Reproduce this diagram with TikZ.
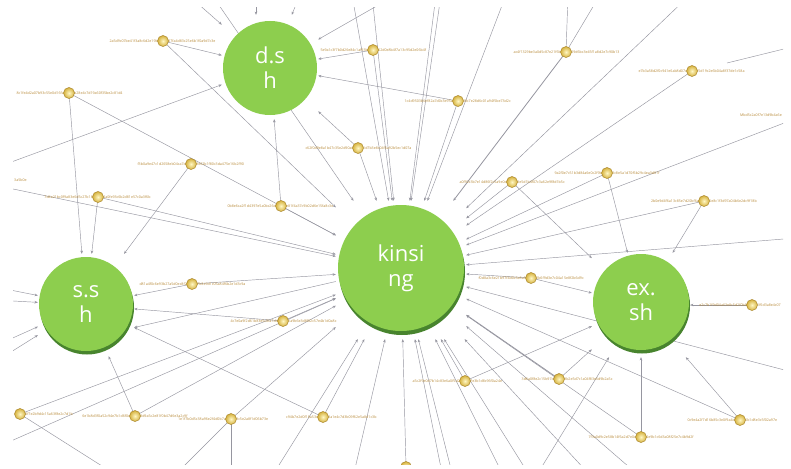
\documentclass[tikz,border=0pt]{standalone}
\usepackage{fontspec}
\setmainfont{Open Sans}
\usetikzlibrary{arrows.meta}
\pgfdeclarelayer{edges}
\pgfdeclarelayer{labs}
\pgfsetlayers{edges,labs,main}
\definecolor{gr}{RGB}{141,206,78}
\definecolor{grd}{RGB}{72,132,46}
\definecolor{edgec}{RGB}{150,150,160}
\definecolor{labc}{RGB}{185,140,60}
\definecolor{ballin}{RGB}{255,247,195}
\definecolor{ballout}{RGB}{214,178,62}
\definecolor{ballrim}{RGB}{170,135,45}
\begin{document}
\begin{tikzpicture}[x=1pt,y=-1pt,
  bign/.style={circle, fill=gr, inner sep=0pt, text=white, align=center, font=\fontsize{22}{25}\selectfont},
  shad/.style={circle, fill=grd, inner sep=0pt},
  hitbox/.style={rectangle, inner sep=0pt},
  ballnode/.style={circle, inner sep=0pt, minimum size=11pt, inner color=ballin, outer color=ballout, draw=ballrim, line width=0.5pt},
  lab/.style={inner sep=0pt, text=labc, font=\fontsize{3.6}{4}\selectfont},
  ed/.style={draw=edgec, line width=0.45pt, -{Stealth[length=3.2pt,width=2.6pt]}},
  edd/.style={ed, line width=0.8pt},
  ln/.style={draw=edgec, line width=0.45pt},
]
\useasboundingbox (0,0) rectangle (791,468);

% ---- connection boxes of the big nodes
\node[hitbox, minimum width=96pt, minimum height=104pt] (dsh) at (270,67) {};
\node[hitbox, minimum width=96pt, minimum height=102pt] (ssh) at (86,305) {};
\node[hitbox, minimum width=130pt, minimum height=138pt] (kin) at (401,270) {};
\node[hitbox, minimum width=98pt, minimum height=104pt] (exsh) at (641,305) {};

% ---- small nodes (positions)
\foreach \n/\x/\y in {b1/163/41, b2/69/93, b3/191/164, b4/98/197, b5/281/206,
  b6/358/148, b7/373/50, b8/566/52, b9/458/101, b10/692/71, b11/512/182,
  b12/607/173, b13/704/201, b14/192/284, b15/283/321, b16/20/414, b17/135/416,
  b18/231/419, b19/323/417, b20/531/278, b21/465/381, b22/559/379, b23/752/305,
  b24/740/420, b25/641/437, b26/406/467, b27/805/115, b28/-30/180}
  \coordinate (\n) at (\x,\y);

% ---- free ends outside the frame
\coordinate (L168) at (-5,168);
\coordinate (L287) at (-5,287);
\coordinate (L300) at (-5,300);
\coordinate (L346) at (-5,346);
\coordinate (L360) at (-5,362);
\coordinate (L446) at (-5,448);
\coordinate (T190) at (188,-5);
\coordinate (T210) at (212,-5);
\coordinate (T257) at (256,-5);
\coordinate (T300) at (300,-5);
\coordinate (T354) at (352,-5);
\coordinate (T374) at (372,-5);
\coordinate (T394) at (396,-5);
\coordinate (T434) at (436,-5);
\coordinate (T439) at (441,-5);
\coordinate (T504) at (506,-5);
\coordinate (T568) at (568,-5);
\coordinate (T597) at (600,-5);
\coordinate (T685) at (690,-5);
\coordinate (R47) at (796,46);
\coordinate (E727) at (727,63);
\coordinate (R238) at (796,238);
\coordinate (R372) at (796,373);
\coordinate (B110) at (113,473);
\coordinate (B180) at (177,473);
\coordinate (B231) at (231,473);
\coordinate (B277) at (274,473);
\coordinate (B356) at (354,473);
\coordinate (B440) at (442,473);
\coordinate (B450) at (452,473);
\coordinate (B500) at (502,473);
\coordinate (B525) at (528,473);
\coordinate (B540) at (538,473);
\coordinate (B585) at (588,473);
\coordinate (B633) at (636,473);
\coordinate (LB27) at (782,115);
\coordinate (LB28) at (14,180);

% ---- connectors
\begin{pgfonlayer}{edges}
\fill[white] (0,0) rectangle (791,468);
\clip (13,8) rectangle (783,464);
% into kinsing
\foreach \s in {b1,b2,b28,b4,b5,b6,b7,T210,T354,T374,T434,T439,T504,b9,T685,
  b10,b27,b11,b12,b13,R238,b20,R372,b24,b25,b21,B633,B585,B525,B500,B450,B440,
  b26,B356,B277,b19,b18,b17,b16,L446,b15,b14}
  \draw[ed] (\s) -- (kin);
\draw[edd] (b8) -- (kin);
\draw[edd] (b22) -- (kin);
% into s.sh
\foreach \s in {b2,b4,b3,L287,L300,L346,L360,b17,b15,b14}
  \draw[ed] (\s) -- (ssh);
\draw[ed] (b19) -- (ssh.-25);
\draw[ed] (kin.190) -- (ssh.-25);
% into d.sh
\foreach \s in {L168,b1,T190,T300,T394,b9,b7,b5,b6}
  \draw[ed] (\s) -- (dsh);
\draw[ed] (T257) -- (dsh.north -| T257);
% into ex.sh
\foreach \s in {b11,b12,b13,b20,b23,b24,b25,b22,b21,B540}
  \draw[ed] (\s) -- (exsh);
% plain lines
\draw[ln] (T568) -- (b8);
\draw[ln] (T597) -- (b8);
\draw[ln] (R47) -- (E727);
\draw[ln] (B110) -- (b16);
\draw[ln] (B180) -- (b18);
\draw[ln] (B231) -- (b18);
\end{pgfonlayer}

% ---- labels of the small nodes (left part / right part of the ball)
\begin{pgfonlayer}{labs}
\foreach \n/\a/\b in {
  b1/{2a5d9c07be41f3a8c6d2e19b}/{07fa4d83c25e6b1f0a9d7c3e},
  b2/{8c1fe4d2a07b93c55e0d16fa}/{b28e4c7d19a60f35be2c81d4},
  b3/{f3b0a9e47c1d2658eb04ca7d}/{9e62b1f80c3da475e16b2f90},
  b4/{7d4e21bc0f9a83e6d5c27b18}/{4a0fe93c6b2d81e57c0a3f6b},
  b5/{0b8e6ca2f1d4397e5a0bc26d}/{e81f4a37c9b02d6e15fa8c3e},
  b6/{c62f0d9e8a1b47c35e2d90af}/{1d7b3e8c04f6a92b5ec1d07a},
  b7/{5e9a1c3f7b0d26e84c1af93b}/{62d0e8b4f7a13c95d2e06b4f},
  b8/{ac4f1329be3a0d5c87e21f6b}/{09d6bc3e45f1a8d2e7c90b13},
  b9/{1c4d9503b6ef82a7d0c3e95a}/{3fb7e28d6c01a94f5be73d2c},
  b10/{e7b3a58d2f0c941e6ab8d07c}/{f5d19c2e6b04a8f37de1c58a},
  b11/{a0f92c3b7e14d86f2c5a9e0d}/{8e5d1b4f07c3a62e9f8d1b5c},
  b12/{9a2f0e7c51b3d84a6e0c2f9b}/{3c8e5a1d70f6b29c4ea3d81f},
  b13/{2b0e9d4f6a13c85e7d20bf6a}/{5e8c1f3d97a04b6e2dc9f18b},
  b14/{d81a4f0c6e93b27a5d0ec8f2}/{7b3e9d1c05a84f6b2e1d3c9a},
  b15/{4c7e0a9f2d61b83e5c0fa7d4}/{1a9b6e3d8f02c57e4b1d0a8c},
  b16/{}/{0f7e2b9d4c15a63f8e2c7d1b},
  b17/{6e1b8d3f0a52c94e7b1d6f0c}/{3d9a5c2e81f0b47d6e3a2c9f},
  b18/{1e1f7b0d5c38a96e2f4d0b7a}/{9c5e2a8f1d06b73e},
  b19/{c94b7e2d0f18a53c}/{8a1e4c7d3b09f62e5a8d1c3b},
  b20/{f0d8a3c6e21b97f4d0c5e8a1}/{2b6f9d3e7c04a15e8f2b6d9c},
  b21/{a5c2f9e0d7b14c83e6a0f5d2}/{7e3b1d8c96f0a24e},
  b22/{3d6a0f8e2c15b97d}/{9b2e5d7c1a04f83e6d9b2a5c},
  b23/{e2c7b1f9d04a63e8c5d2f0b9}/{1f6d3a8e4c07},
  b24/{0c9e4a2f7d16b85c3e0f9a4d}/{6b1d8e3c5f02a97e},
  b25/{7f3a0d9c2e58b14f6a2d7e0c}/{4e9b1c6d3a08f25e7c4b9d2f}}
{
  \node[lab, anchor=east] (\n-a) at ([xshift=-5pt]\n) {\a};
  \node[lab, anchor=west] (\n-b) at ([xshift=5pt]\n) {\b};
}
\node[lab, anchor=east] (b27-a) at (LB27) {Mbd5c2a0f7e13d9b4a6e};
\node[lab, anchor=west] (b28-b) at (LB28) {3a5b0e};
\end{pgfonlayer}

% ---- small balls
\begin{scope}
\clip (13,8) rectangle (783,464);
\foreach \n in {b1,b2,b3,b4,b5,b6,b7,b8,b9,b10,b11,b12,b13,b14,b15,b16,b17,
  b18,b19,b20,b21,b22,b23,b24,b25,b26}
  \node[ballnode] (n\n) at (\n) {};
\end{scope}

% ---- big nodes (d.sh has no shadow)
\node[bign, minimum size=94pt] (dshc) at (270,68) {d.s\\h};
\node[shad, minimum size=94pt] (sshs) at (87,307.5) {};
\node[bign, minimum size=94pt] (sshc) at (86,304) {s.s\\h};
\node[shad, minimum size=126pt] (kins) at (402,272) {};
\node[bign, minimum size=126pt] (kinc) at (401,268) {kinsi\\ng};
\node[shad, minimum size=96pt] (exshs) at (642,305.5) {};
\node[bign, minimum size=96pt] (exshc) at (641,302) {ex.\\sh};
\end{tikzpicture}
\end{document}
